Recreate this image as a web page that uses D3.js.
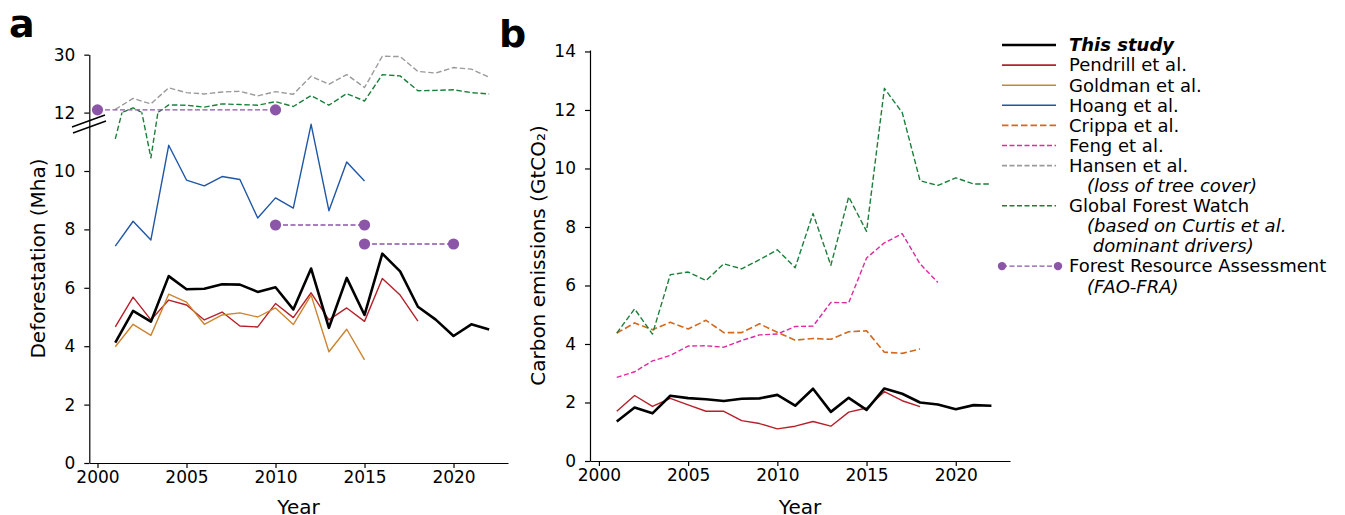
<!DOCTYPE html>
<html lang="en">
<head>
  <meta charset="UTF-8" />
  <title>Deforestation and carbon emissions</title>
  <script src="https://d3js.org/d3.v7.min.js"></script>
  <style>
    body {
      margin: 0;
      padding: 0;
      background: #fff;
      font-family: "DejaVu Sans", sans-serif;
    }
    .tick text {
      font-family: "DejaVu Sans", sans-serif;
      font-size: 17px;
      fill: #000;
    }
    .tick line, .domain {
      stroke: #000;
      stroke-width: 1.2px;
    }
  </style>
</head>
<body>
  <div id="chart"></div>

  <script>
    // ---- data ----
    const years = [2001, 2002, 2003, 2004, 2005, 2006, 2007, 2008, 2009, 2010, 2011,
                   2012, 2013, 2014, 2015, 2016, 2017, 2018, 2019, 2020, 2021, 2022];

    // panel a: deforestation (Mha)
    const thisStudyA = [4.12, 5.21, 4.84, 6.40, 5.95, 5.97, 6.12, 6.11, 5.86, 6.02, 5.26,
                        6.66, 4.63, 6.34, 5.07, 7.17, 6.56, 5.35, 4.91, 4.35, 4.75, 4.57];
    const pendrillA = [4.66, 5.68, 4.90, 5.58, 5.41, 4.90, 5.17, 4.69, 4.66, 5.46, 4.98,
                       5.83, 4.90, 5.31, 4.85, 6.32, 5.75, 4.86];
    const goldmanA = [3.98, 4.75, 4.37, 5.78, 5.51, 4.75, 5.07, 5.14, 5.00, 5.31, 4.74,
                      5.75, 3.81, 4.58, 3.53];
    const hoangA = [7.43, 8.28, 7.64, 10.88, 9.69, 9.49, 9.81, 9.71, 8.39, 9.08, 8.73,
                    11.6, 8.64, 10.31, 9.66];
    const hansenA = [13.0, 16.4, 14.7, 19.7, 18.2, 17.8, 18.4, 18.6, 17.2, 18.5, 17.7,
                     23.3, 20.8, 23.8, 19.8, 29.5, 29.4, 24.8, 24.3, 26.0, 25.5, 23.0];
    const gfwA = [11.1, 13.5, 10.45, 14.4, 14.3, 13.7, 14.7, 14.5, 14.3, 15.4, 13.9,
                  17.3, 14.3, 17.9, 15.6, 23.8, 23.4, 18.8, 18.9, 19.1, 18.2, 17.8];
    const fraStart = [2000, 2010, 2015];
    const fraEnd = [2010, 2015, 2020];
    const fraValue = [12.85, 8.15, 7.5];

    // panel b: carbon emissions (GtCO2)
    const thisStudyB = [1.35, 1.83, 1.63, 2.23, 2.15, 2.11, 2.05, 2.13, 2.14, 2.26, 1.89,
                        2.47, 1.68, 2.16, 1.75, 2.48, 2.30, 2.00, 1.93, 1.77, 1.91, 1.89];
    const pendrillB = [1.70, 2.24, 1.87, 2.14, 1.92, 1.70, 1.70, 1.38, 1.28, 1.10, 1.19,
                       1.35, 1.19, 1.67, 1.81, 2.37, 2.06, 1.86];
    const crippaB = [4.37, 4.72, 4.49, 4.74, 4.51, 4.81, 4.39, 4.39, 4.69, 4.40, 4.13,
                     4.19, 4.16, 4.42, 4.45, 3.72, 3.68, 3.83];
    const fengB = [2.86, 3.05, 3.42, 3.61, 3.93, 3.94, 3.89, 4.12, 4.31, 4.34, 4.60,
                   4.61, 5.42, 5.41, 6.94, 7.46, 7.77, 6.74, 6.10];
    const gfwB = [4.37, 5.20, 4.34, 6.37, 6.46, 6.17, 6.74, 6.57, 6.88, 7.22, 6.61,
                  8.46, 6.69, 9.03, 7.85, 12.74, 11.91, 9.58, 9.42, 9.68, 9.47, 9.47];

    const xTicks = [2000, 2005, 2010, 2015, 2020];
    const yTicksLow = [0, 2, 4, 6, 8, 10];
    const yTicksHigh = [12, 30];
    const yTicksB = [0, 2, 4, 6, 8, 10, 12, 14];

    const colors = {
      thisStudy: "#000000",
      pendrill: "#b5202a",
      goldman: "#cc8430",
      hoang: "#1f56a6",
      crippa: "#d2691e",
      feng: "#de2aa0",
      hansen: "#9a9a9a",
      gfw: "#1b7f3a",
      fra: "#8b55a8"
    };

    // series styles
    const seriesA = [
      { vals: pendrillA, color: colors.pendrill, width: 1.4, dash: null },
      { vals: goldmanA, color: colors.goldman, width: 1.4, dash: null },
      { vals: hoangA, color: colors.hoang, width: 1.4, dash: null },
      { vals: hansenA, color: colors.hansen, width: 1.4, dash: "5.5,2.6" },
      { vals: gfwA, color: colors.gfw, width: 1.4, dash: "5.5,2.6" },
      { vals: thisStudyA, color: colors.thisStudy, width: 2.6, dash: null }
    ];
    const seriesB = [
      { vals: pendrillB, color: colors.pendrill, width: 1.4, dash: null },
      { vals: crippaB, color: colors.crippa, width: 1.6, dash: "6.5,3" },
      { vals: fengB, color: colors.feng, width: 1.4, dash: "5,2.5" },
      { vals: gfwB, color: colors.gfw, width: 1.4, dash: "5.5,2.6" },
      { vals: thisStudyB, color: colors.thisStudy, width: 2.6, dash: null }
    ];

    const legendItems = [
      { label: "This study", color: colors.thisStudy, width: 2.6, dash: null, bold: true },
      { label: "Pendrill et al.", color: colors.pendrill, width: 1.6, dash: null },
      { label: "Goldman et al.", color: colors.goldman, width: 1.6, dash: null },
      { label: "Hoang et al.", color: colors.hoang, width: 1.6, dash: null },
      { label: "Crippa et al.", color: colors.crippa, width: 1.6, dash: "6.5,3" },
      { label: "Feng et al.", color: colors.feng, width: 1.6, dash: "5,2.5" },
      { label: "Hansen et al.", color: colors.hansen, width: 1.6, dash: "5,2.5", sub: ["(loss of tree cover)"] },
      { label: "Global Forest Watch", color: colors.gfw, width: 1.6, dash: "5,2.5",
        sub: ["(based on Curtis et al.", " dominant drivers)"] },
      { label: "Forest Resource Assessment", color: colors.fra, width: 1.4, dash: "5,2.5",
        sub: ["(FAO-FRA)"], dots: true }
    ];

    // ---- layout ----
    const W = 1345, H = 515;
    const svg = d3.select("#chart").append("svg")
      .attr("width", W).attr("height", H)
      .style("font-family", "'DejaVu Sans', sans-serif");

    const xA = d3.scaleLinear().domain([1999.54, 2023.06]).range([89.3, 508]);
    const yLow = d3.scaleLinear().domain([0, 12]).range([463, 112.6]);
    const yHigh = d3.scaleLinear().domain([12, 30.05]).range([112.6, 54.5]);
    const xB = d3.scaleLinear().domain([1999.5, 2023.04]).range([590, 1010]);
    const yB = d3.scaleLinear().domain([0, 14.05]).range([461, 50]);

    const defs = svg.append("defs");
    function addClip(id, x, y) {
      defs.append("clipPath").attr("id", id).append("rect")
        .attr("x", x.range()[0]).attr("width", x.range()[1] - x.range()[0])
        .attr("y", y.range()[1]).attr("height", y.range()[0] - y.range()[1]);
    }
    addClip("clip-a-low", xA, yLow);
    addClip("clip-a-high", xA, yHigh);
    addClip("clip-b", xB, yB);

    function drawSeries(series, x, y, clipId) {
      const g = svg.append("g").attr("clip-path", `url(#${clipId})`);
      series.forEach((s) => {
        const pts = s.vals.map((v, i) => [years[i], v]);
        g.append("path")
          .attr("d", d3.line().x((d) => x(d[0])).y((d) => y(d[1]))(pts))
          .attr("fill", "none")
          .attr("stroke", s.color)
          .attr("stroke-width", s.width)
          .attr("stroke-dasharray", s.dash)
          .attr("stroke-linejoin", "round");
      });
    }

    // panel a: same data through the lower and the upper (broken) axis
    drawSeries(seriesA, xA, yLow, "clip-a-low");
    drawSeries(seriesA, xA, yHigh, "clip-a-high");

    // FRA period means
    const fraG = svg.append("g");
    fraValue.forEach((v, i) => {
      const y = v >= 12 ? yHigh : yLow;
      fraG.append("line")
        .attr("x1", xA(fraStart[i])).attr("x2", xA(fraEnd[i]))
        .attr("y1", y(v)).attr("y2", y(v))
        .attr("stroke", colors.fra).attr("stroke-width", 1.4)
        .attr("stroke-dasharray", "5,2.5");
      [fraStart[i], fraEnd[i]].forEach((yr) => {
        fraG.append("circle")
          .attr("cx", xA(yr)).attr("cy", y(v)).attr("r", 5.6)
          .attr("fill", colors.fra);
      });
    });

    // axes panel a
    svg.append("g").attr("transform", `translate(0,${yLow.range()[0]})`)
      .call(d3.axisBottom(xA).tickValues(xTicks).tickFormat(d3.format("d"))
        .tickSize(5).tickSizeOuter(0).tickPadding(3));
    svg.append("g").attr("transform", `translate(${xA.range()[0]},0)`)
      .call(d3.axisLeft(yLow).tickValues(yTicksLow).tickSize(5).tickSizeOuter(0).tickPadding(9));
    svg.append("g").attr("transform", `translate(${xA.range()[0]},0)`)
      .call(d3.axisLeft(yHigh).tickValues(yTicksHigh).tickSize(5).tickSizeOuter(0).tickPadding(9));

    // break marks on the y axis
    const brk = svg.append("g").attr("stroke", "#000").attr("stroke-width", 1.6);
    brk.append("line").attr("x1", 72).attr("y1", 127).attr("x2", 105).attr("y2", 115);
    brk.append("line").attr("x1", 73).attr("y1", 133).attr("x2", 106).attr("y2", 121);

    // panel b
    drawSeries(seriesB, xB, yB, "clip-b");
    svg.append("g").attr("transform", `translate(0,${yB.range()[0]})`)
      .call(d3.axisBottom(xB).tickValues(xTicks).tickFormat(d3.format("d"))
        .tickSize(5).tickSizeOuter(0).tickPadding(3));
    svg.append("g").attr("transform", `translate(${xB.range()[0]},0)`)
      .call(d3.axisLeft(yB).tickValues(yTicksB).tickSize(5).tickSizeOuter(0).tickPadding(9));

    // axis labels
    svg.append("text").attr("x", 298.5).attr("y", 514).attr("text-anchor", "middle")
      .style("font-size", "20px").text("Year");
    svg.append("text").attr("x", 800).attr("y", 514).attr("text-anchor", "middle")
      .style("font-size", "20px").text("Year");
    svg.append("text").attr("transform", "translate(45,258.5) rotate(-90)")
      .attr("text-anchor", "middle").style("font-size", "20px").text("Deforestation (Mha)");
    svg.append("text").attr("transform", "translate(545,255.5) rotate(-90)")
      .attr("text-anchor", "middle").style("font-size", "20px").text("Carbon emissions (GtCO₂)");

    // panel letters
    svg.append("text").attr("x", 9).attr("y", 37).style("font-size", "38px")
      .style("font-weight", "bold").text("a");
    svg.append("text").attr("x", 499).attr("y", 47).style("font-size", "38px")
      .style("font-weight", "bold").text("b");

    // legend
    const lg = svg.append("g").attr("transform", "translate(1002,45)");
    let row = 0;
    legendItems.forEach((it) => {
      const cy = row * 20.1;
      lg.append("line")
        .attr("x1", 0).attr("x2", it.dots ? 56 : 54).attr("y1", cy).attr("y2", cy)
        .attr("stroke", it.color).attr("stroke-width", it.width)
        .attr("stroke-dasharray", it.dash);
      if (it.dots) {
        [0, 56].forEach((cx) => lg.append("circle").attr("cx", cx).attr("cy", cy)
          .attr("r", 4.2).attr("fill", it.color));
      }
      lg.append("text").attr("x", 67).attr("y", cy + 6.3)
        .style("font-size", "18px")
        .style("font-weight", it.bold ? "bold" : null)
        .style("font-style", it.bold ? "italic" : null)
        .text(it.label);
      row++;
      (it.sub || []).forEach((s) => {
        lg.append("text").attr("x", 85).attr("y", row * 20.1 + 6.3)
          .style("font-size", "18px").style("font-style", "italic")
          .attr("xml:space", "preserve").style("white-space", "pre")
          .text(s);
        row++;
      });
    });
  </script>
</body>
</html>
